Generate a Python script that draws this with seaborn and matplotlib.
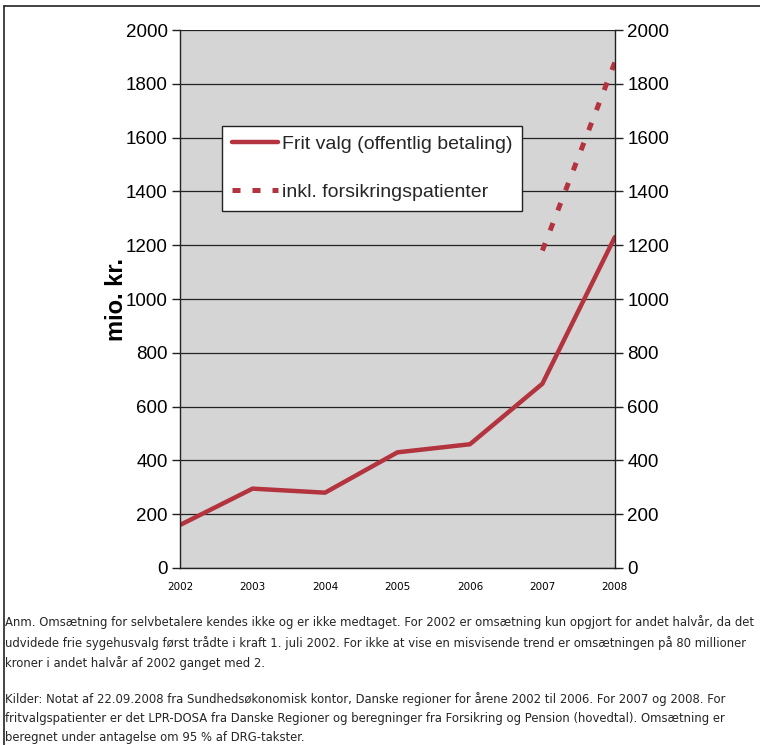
#!/usr/bin/env python3

import pandas as pd
import seaborn as sns
import matplotlib.pyplot as plt
from matplotlib.lines import Line2D

# Data (mio. kr.)
years = [2002, 2003, 2004, 2005, 2006, 2007, 2008]
frit_valg = [160, 295, 280, 430, 460, 685, 1230]
forsikring_years = [2007, 2008]
forsikring = [1180, 1880]

y_ticks = list(range(0, 2001, 200))

note_text = ("Anm. Omsætning for selvbetalere kendes ikke og er ikke medtaget. For 2002 er omsætning kun opgjort for andet halvår, da det\n"
             "udvidede frie sygehusvalg først trådte i kraft 1. juli 2002. For ikke at vise en misvisende trend er omsætningen på 80 millioner\n"
             "kroner i andet halvår af 2002 ganget med 2.")
source_text = ("Kilder: Notat af 22.09.2008 fra Sundhedsøkonomisk kontor, Danske regioner for årene 2002 til 2006. For 2007 og 2008. For\n"
               "fritvalgspatienter er det LPR-DOSA fra Danske Regioner og beregninger fra Forsikring og Pension (hovedtal). Omsætning er\n"
               "beregnet under antagelse om 95 % af DRG-takster.")

df_main = pd.DataFrame({'year': years, 'value': frit_valg})
df_ins = pd.DataFrame({'year': forsikring_years, 'value': forsikring})

sns.set_style('white')
plt.rcParams['font.family'] = ['Liberation Sans', 'DejaVu Sans']

red = '#B3333F'
dash = (0, (1.6, 2.7))

fig = plt.figure(figsize=(7.6, 7.45), dpi=100)
ax = fig.add_axes([0.237, 0.2376, 0.572, 0.7221])
ax.set_facecolor('#D5D5D5')

sns.lineplot(data=df_main, x='year', y='value', ax=ax, color=red, linewidth=3.2)
sns.lineplot(data=df_ins, x='year', y='value', ax=ax, color=red, linewidth=3.6,
             linestyle=dash)

ax.set_xlim(2002, 2008)
ax.set_ylim(0, 2000)
ax.set_yticks(y_ticks)
ax.set_xticks(years)
ax.set_xticklabels([str(y) for y in years], family='DejaVu Sans', fontsize=7.5, color='black')
ax.tick_params(axis='y', labelsize=13.5, labelcolor='black', length=6, width=1,
               direction='out', color='#222222', pad=3)
ax.tick_params(axis='x', length=5, width=1, direction='out', color='#222222', pad=5)
ax.yaxis.grid(True, color='#222222', linewidth=0.9)
ax.set_axisbelow(True)
ax.set_xlabel('')
ax.set_ylabel('mio. kr.', fontsize=17, fontweight='bold', color='black', labelpad=-2)
for s in ['left', 'right', 'bottom']:
    ax.spines[s].set_color('#222222')
    ax.spines[s].set_linewidth(1)
ax.spines['top'].set_visible(False)

ax2 = ax.twinx()
ax2.set_ylim(0, 2000)
ax2.set_yticks(y_ticks)
ax2.tick_params(axis='y', labelsize=13.5, labelcolor='black', length=6, width=1,
                direction='out', color='#222222', pad=3)
for s in ax2.spines.values():
    s.set_visible(False)

handles = [Line2D([], [], color=red, linewidth=3.2),
           Line2D([], [], color=red, linewidth=3.6, linestyle=(0, (1.6, 2.4)))]
leg = ax.legend(handles, ['Frit valg (offentlig betaling)', 'inkl. forsikringspatienter'],
                loc='upper left', bbox_to_anchor=(0.097, 0.822), fontsize=14,
                frameon=True, fancybox=False, framealpha=1, edgecolor='#222222',
                handlelength=2.35, handletextpad=0.2, labelspacing=1.55, borderpad=0.5,
                borderaxespad=0)
leg.get_frame().set_linewidth(1)

# Footnote text
fig.text(0.006, 1 - 615 / 745, note_text, fontsize=8.4, family='DejaVu Sans',
         va='top', ha='left', linespacing=1.6)
fig.text(0.006, 1 - 692 / 745, source_text, fontsize=8.4, family='DejaVu Sans',
         va='top', ha='left', linespacing=1.6)

# Frame lines
fig.add_artist(Line2D([4 / 760, 4 / 760], [0, 1 - 6 / 745], transform=fig.transFigure,
                      color='#222222', linewidth=1.2))
fig.add_artist(Line2D([4 / 760, 1], [1 - 6 / 745, 1 - 6 / 745], transform=fig.transFigure,
                      color='#222222', linewidth=1.2))

fig.savefig('out.png', dpi=100)
